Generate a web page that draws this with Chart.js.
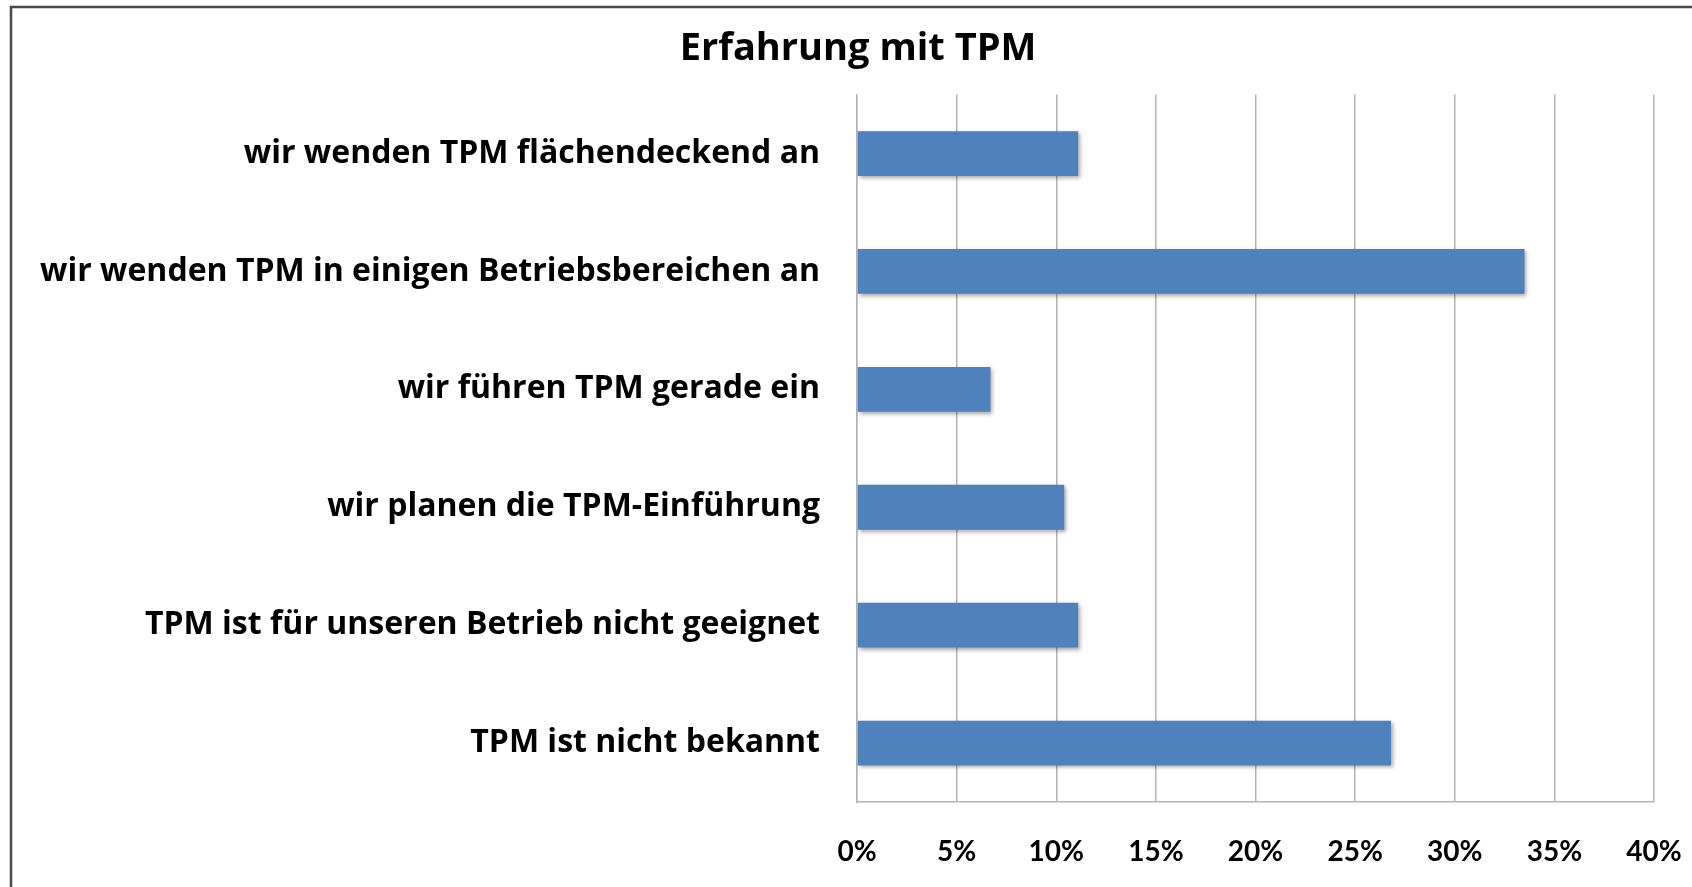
<!DOCTYPE html>
<html>
<head>
<meta charset="utf-8">
<script src="https://cdn.jsdelivr.net/npm/chart.js@4/dist/chart.umd.min.js"></script>
<style>
  html, body { margin: 0; padding: 0; background: #ffffff; }
  #wrap { position: relative; width: 1692px; height: 887px; }
</style>
</head>
<body>
<div id="wrap"><canvas id="c" width="1692" height="887"></canvas></div>
<script>
const categories = [
  "wir wenden TPM flächendeckend an",
  "wir wenden TPM in einigen Betriebsbereichen an",
  "wir führen TPM gerade ein",
  "wir planen die TPM-Einführung",
  "TPM ist für unseren Betrieb nicht geeignet",
  "TPM ist nicht bekannt"
];
const shares = [11.1, 33.5, 6.7, 10.4, 11.1, 26.8];
const xTicks = [0, 5, 10, 15, 20, 25, 30, 35, 40];
const chartTitle = "Erfahrung mit TPM";

const LABEL_FONT = "'Open Sans', 'Noto Sans', sans-serif";
const TICK_FONT = "Lato, 'Open Sans', sans-serif";

const framePlugin = {
  id: 'frame',
  beforeDraw(chart) {
    const ctx = chart.ctx;
    ctx.save();
    ctx.fillStyle = '#ffffff';
    ctx.fillRect(0, 0, chart.width, chart.height);
    ctx.strokeStyle = '#4a4a4a';
    ctx.lineWidth = 2.5;
    ctx.strokeRect(11, 7, chart.width + 20, chart.height + 20);
    ctx.restore();
  }
};

const shadowPlugin = {
  id: 'barShadow',
  beforeDatasetsDraw(chart) {
    const ctx = chart.ctx;
    ctx.save();
    ctx.shadowColor = 'rgba(0,0,0,0.35)';
    ctx.shadowBlur = 4;
    ctx.shadowOffsetX = 2;
    ctx.shadowOffsetY = 2;
  },
  afterDatasetsDraw(chart) {
    chart.ctx.restore();
  }
};

new Chart(document.getElementById('c'), {
  type: 'bar',
  data: {
    labels: categories,
    datasets: [{
      data: shares,
      backgroundColor: '#4F81BD',
      borderWidth: 0,
      barPercentage: 0.38,
      categoryPercentage: 1.0
    }]
  },
  options: {
    indexAxis: 'y',
    responsive: false,
    animation: false,
    devicePixelRatio: 1,
    layout: { padding: { left: 24, right: 0, top: 0, bottom: 0 } },
    plugins: {
      legend: { display: false },
      tooltip: { enabled: false },
      title: {
        display: true,
        text: chartTitle,
        color: '#000000',
        font: { family: LABEL_FONT, size: 38, weight: 'bold', lineHeight: 1.2 },
        padding: { top: 26, bottom: 23 }
      }
    },
    scales: {
      x: {
        type: 'linear',
        min: 0,
        max: 40,
        afterBuildTicks(scale) { scale.ticks = xTicks.map(v => ({ value: v })); },
        afterFit(scale) { scale.height = 85; scale.paddingLeft = 0; scale.paddingRight = 38; },
        ticks: {
          color: '#000000',
          padding: 33,
          maxRotation: 0,
          font: { family: TICK_FONT, size: 28, weight: 'bold', lineHeight: 1.2 },
          callback: (v) => v + '%'
        },
        grid: { color: '#b3b3b3', lineWidth: 1.5, drawTicks: false },
        border: { display: true, color: '#b3b3b3', width: 1.5 }
      },
      y: {
        afterFit(scale) { scale.width = 833; },
        ticks: {
          color: '#000000',
          padding: 37,
          font: { family: LABEL_FONT, size: 32, weight: 'bold', lineHeight: 1.2 }
        },
        grid: { display: false, drawTicks: false },
        border: { display: true, color: '#b3b3b3', width: 1.5 }
      }
    }
  },
  plugins: [framePlugin, shadowPlugin]
});
</script>
</body>
</html>
